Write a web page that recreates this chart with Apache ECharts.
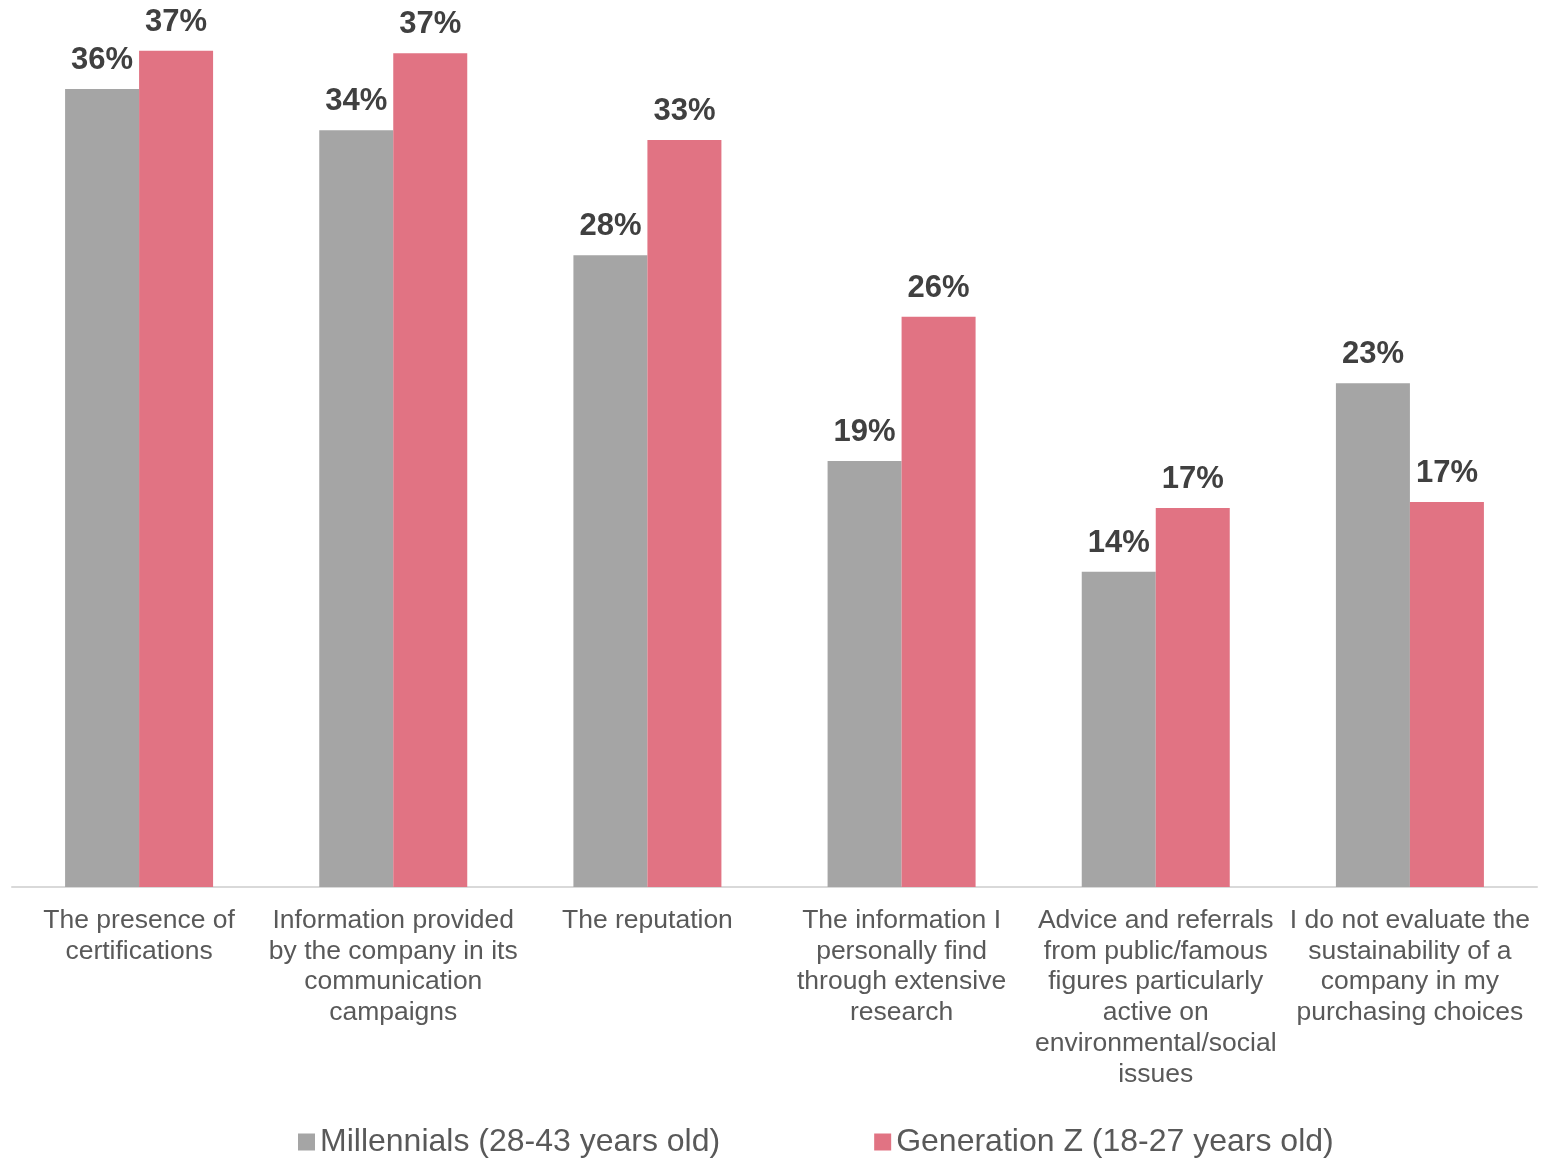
<!DOCTYPE html>
<html>
<head>
<meta charset="utf-8">
<script src="https://cdn.jsdelivr.net/npm/echarts@6/dist/echarts.min.js"></script>
<style>
html,body{margin:0;padding:0;background:#fff;}
#chart{width:1559px;height:1158px;}
</style>
</head>
<body>
<div id="chart"></div>
<script>
const categories = [
  "The presence of\ncertifications",
  "Information provided\nby the company in its\ncommunication\ncampaigns",
  "The reputation",
  "The information I\npersonally find\nthrough extensive\nresearch",
  "Advice and referrals\nfrom public/famous\nfigures particularly\nactive on\nenvironmental/social\nissues",
  "I do not evaluate the\nsustainability of a\ncompany in my\npurchasing choices"
];
const seriesNames = ["Millennials (28-43 years old)", "Generation Z (18-27 years old)"];
const millennials = [35.74, 33.89, 28.29, 19.08, 14.12, 22.56];
const genZ = [37.45, 37.34, 33.45, 25.54, 16.97, 17.24];

const FONT = "'Liberation Sans', Arial, Helvetica, sans-serif";
const chart = echarts.init(document.getElementById('chart'), null, {renderer: 'canvas'});

const labelCfg = {
  show: true,
  position: 'top',
  distance: 13,
  formatter: p => Math.round(p.value) + '%',
  fontFamily: FONT,
  fontSize: 31,
  fontWeight: 'bold',
  color: '#404040'
};

chart.setOption({
  animation: false,
  backgroundColor: '#ffffff',
  grid: {left: 12, right: 22, top: 38.5, bottom: 271, containLabel: false},
  legend: {
    data: seriesNames,
    left: 298,
    top: 1126,
    padding: 0,
    itemWidth: 17,
    itemHeight: 17,
    itemGap: 154,
    icon: 'rect',
    textStyle: {fontFamily: FONT, fontSize: 32, color: '#595959'}
  },
  xAxis: {
    type: 'category',
    data: categories,
    axisLine: {show: true, lineStyle: {color: '#d9d9d9', width: 2}},
    axisTick: {show: false},
    axisLabel: {
      interval: 0,
      margin: 18,
      fontFamily: FONT,
      fontSize: 26.5,
      lineHeight: 30.8,
      color: '#595959',
      align: 'center'
    }
  },
  yAxis: {
    type: 'value',
    min: 0,
    max: 38,
    show: false,
    splitLine: {show: false}
  },
  series: [
    {
      name: seriesNames[0],
      type: 'bar',
      data: millennials,
      barWidth: 74,
      barGap: '0%',
      itemStyle: {color: '#a5a5a5'},
      label: labelCfg
    },
    {
      name: seriesNames[1],
      type: 'bar',
      data: genZ,
      barWidth: 74,
      barGap: '0%',
      itemStyle: {color: '#e17383'},
      label: labelCfg
    }
  ]
});
</script>
</body>
</html>
